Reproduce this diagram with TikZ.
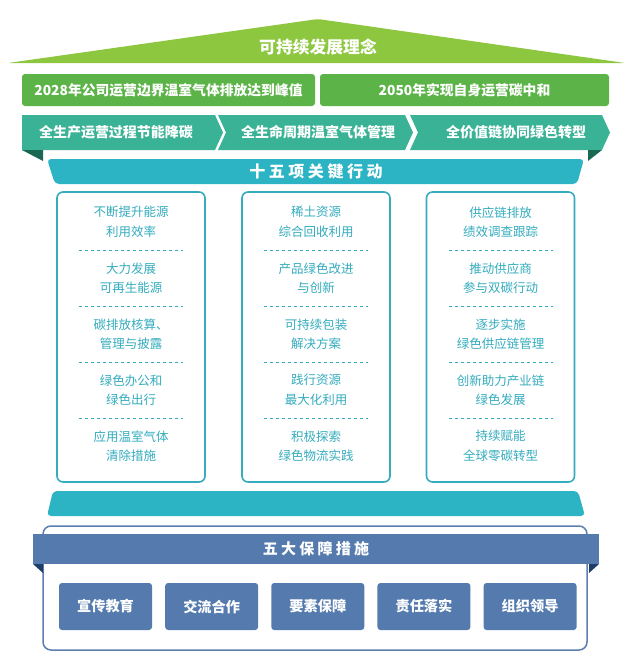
\documentclass[tikz,border=0pt]{standalone}
\usepackage{fontspec}
\setmainfont{Noto Sans CJK SC}
\newfontfamily\widefont[LetterSpace=22]{Noto Sans CJK SC}
\usetikzlibrary{chains,positioning}

\definecolor{roofgreen}{RGB}{141,198,63}
\definecolor{goalgreen}{RGB}{92,180,72}
\definecolor{stageteal}{RGB}{58,178,150}
\definecolor{folddark}{RGB}{24,104,84}
\definecolor{actionteal}{RGB}{44,180,196}
\definecolor{itemteal}{RGB}{52,172,190}
\definecolor{guardblue}{RGB}{84,122,174}
\definecolor{guardfold}{RGB}{30,62,104}
\definecolor{frameblue}{RGB}{92,126,176}

\begin{document}
\begin{tikzpicture}[
  x=1pt, y=-1pt,
  whitetext/.style={text=white, font=\bfseries\fontsize{13.8}{16}\selectfont},
  goal/.style={fill=goalgreen, rounded corners=3pt, minimum height=32pt, whitetext},
  stage/.style={whitetext, font=\bfseries\fontsize{14}{16}\selectfont},
  colbox/.style={draw=itemteal, line width=1.6pt, fill=white, rounded corners=6pt,
    minimum width=148pt, minimum height=290pt},
  item/.style={text=itemteal, align=center, font=\fontsize{12.5}{19.5}\selectfont},
  sep/.style={draw=itemteal, line width=0.6pt, dash pattern=on 3pt off 3pt},
  guardbox/.style={fill=guardblue, rounded corners=3pt, minimum width=93pt,
    minimum height=47pt, whitetext, font=\bfseries\fontsize{14.2}{16}\selectfont}
]
  \useasboundingbox (0,0) rectangle (634,665);

  % roof and the two goals
  \fill[roofgreen, rounded corners=2pt] (8,63) -- (318,19) -- (625,63) -- cycle;
  \node[text=white, font=\bfseries\fontsize{16.8}{18}\selectfont] (title) at (318,47) {可持续发展理念};
  \node[goal, minimum width=293pt] (goalA) at (168.5,90) {2028年公司运营边界温室气体排放达到峰值};
  \node[goal, minimum width=289pt] (goalB) at (464.5,90) {2050年实现自身运营碳中和};

  % three stages as chevrons, folded ends below
  \fill[stageteal] (22,115) -- (215,115) -- (223,132.5) -- (215,150) -- (22,150) -- cycle;
  \fill[stageteal] (218,115) -- (405,115) -- (413,132.5) -- (405,150) -- (218,150) -- (226,132.5) -- cycle;
  \fill[stageteal] (410,115) -- (602,115) -- (610,132.5) -- (602,150) -- (410,150) -- (418,132.5) -- cycle;
  \fill[folddark] (22,150) -- (43,150) -- (43,161) -- cycle;
  \fill[folddark] (602,150) -- (588,150) -- (588,161) -- cycle;
  \node[stage] (stageA) at (116,132.5) {全生产运营过程节能降碳};
  \node[stage] (stageB) at (318,132.5) {全生命周期温室气体管理};
  \node[stage] (stageC) at (516,132.5) {全价值链协同绿色转型};

  % fifteen key actions
  \fill[actionteal, rounded corners=4pt] (47,159) -- (584,159) -- (577,184) -- (55,184) -- cycle;
  \node[text=white, font=\widefont\bfseries\fontsize{16}{18}\selectfont] (actions) at (316,171.5) {十五项关键行动};

  \node[colbox] (colA) at (131,337) {};
  \node[colbox] (colB) at (316,337) {};
  \node[colbox] (colC) at (500.5,337) {};

  \node[item] (a1) at (131,222) {不断提升能源\\利用效率};
  \node[item] (a2) at (131,278) {大力发展\\可再生能源};
  \node[item] (a3) at (131,334) {碳排放核算、\\管理与披露};
  \node[item] (a4) at (131,390) {绿色办公和\\绿色出行};
  \node[item] (a5) at (131,446) {应用温室气体\\清除措施};

  \node[item] (b1) at (316,222) {稀土资源\\综合回收利用};
  \node[item] (b2) at (316,278) {产品绿色改进\\与创新};
  \node[item] (b3) at (316,334) {可持续包装\\解决方案};
  \node[item] (b4) at (316,390) {践行资源\\最大化利用};
  \node[item] (b5) at (316,446) {积极探索\\绿色物流实践};

  \node[item] (c1) at (500.5,222) {供应链排放\\绩效调查跟踪};
  \node[item] (c2) at (500.5,278) {推动供应商\\参与双碳行动};
  \node[item] (c3) at (500.5,334) {逐步实施\\绿色供应链管理};
  \node[item] (c4) at (500.5,390) {创新助力产业链\\绿色发展};
  \node[item] (c5) at (500.5,446) {持续赋能\\全球零碳转型};

  \foreach \cx in {131,316,500.5}
    \foreach \sy in {250,306,362,418}
      \draw[sep] (\cx-52,\sy) -- (\cx+52,\sy);

  \fill[actionteal, rounded corners=4pt] (53,491) -- (578,491) -- (585,516) -- (47,516) -- cycle;

  % five safeguards
  \draw[frameblue, line width=1.5pt, fill=white, rounded corners=8pt] (43,526) rectangle (587,650);
  \node[fill=guardblue, minimum width=566pt, minimum height=30pt, text=white,
    font=\widefont\bfseries\fontsize{15}{18}\selectfont] (guard) at (316,549) {五大保障措施};
  \fill[guardfold] (33,564) -- (43,564) -- (43,573) -- cycle;
  \fill[guardfold] (599,564) -- (589,564) -- (589,573) -- cycle;

  \begin{scope}[start chain=guards going right, node distance=12.75pt]
    \node[guardbox, on chain] (guardA) at (105.5,606.5) {宣传教育};
    \node[guardbox, on chain] (guardB) {交流合作};
    \node[guardbox, on chain] (guardC) {要素保障};
    \node[guardbox, on chain] (guardD) {责任落实};
    \node[guardbox, on chain] (guardE) {组织领导};
  \end{scope}
\end{tikzpicture}
\end{document}
